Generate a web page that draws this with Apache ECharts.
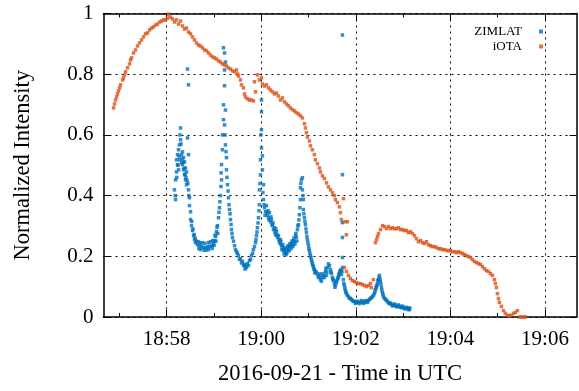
<!DOCTYPE html>
<html>
<head>
<meta charset="utf-8">
<script src="https://cdn.jsdelivr.net/npm/echarts@6/dist/echarts.min.js"></script>
<style>html,body{margin:0;padding:0;background:#fff}#c{width:579px;height:391px}</style>
</head>
<body>
<div id="c"></div>
<script>
// time in seconds relative to 19:00:00 UTC, value = normalized intensity
const zimlatPoints = [[-110,0.419],[-108.6,0.387],[-108.6,0.452],[-107.4,0.478],[-107.4,0.518],[-106.1,0.502],[-106.1,0.535],[-104.8,0.551],[-104.8,0.485],[-103.6,0.567],[-103.6,0.518],[-102.3,0.623],[-102.3,0.584],[-101,0.535],[-101,0.508],[-99.8,0.502],[-99.8,0.544],[-98.5,0.525],[-98.5,0.485],[-97.2,0.469],[-97.2,0.511],[-96,0.491],[-96,0.452],[-94.7,0.478],[-94.7,0.436],[-93.4,0.817],[-93.4,0.590],[-92.2,0.765],[-92.2,0.535],[-92.2,0.419],[-90.9,0.393],[-90.9,0.367],[-89.6,0.347],[-89.6,0.321],[-88.4,0.301],[-87.1,0.285],[-85.8,0.268],[-84.6,0.255],[-83.3,0.245],[-80.8,0.238],[-78.2,0.235],[-75.7,0.232],[-73.2,0.229],[-70.6,0.229],[-68.1,0.232],[-65.5,0.232],[-63,0.235],[-60.5,0.241],[-59.2,0.251],[-57.9,0.265],[-56.7,0.281],[-55.4,0.301],[-54.1,0.327],[-52.9,0.360],[-51.6,0.400],[-50.3,0.452],[-50.3,0.502],[-49.1,0.551],[-49.1,0.600],[-47.8,0.650],[-47.8,0.699],[-46.5,0.762],[-46.5,0.814],[-46.5,0.870],[-47.8,0.887],[-45.3,0.840],[-45.3,0.682],[-46.5,0.633],[-45.3,0.567],[-44,0.525],[-44,0.485],[-42.7,0.436],[-41.5,0.393],[-40.2,0.354],[-38.9,0.321],[-37.7,0.288],[-36.4,0.262],[-33.8,0.235],[-31.3,0.215],[-28.8,0.202],[-26.2,0.192],[-23.7,0.183],[-21.2,0.173],[-19.9,0.166],[-17.4,0.176],[-14.8,0.186],[-12.3,0.202],[-9.8,0.222],[-7.2,0.245],[-6,0.268],[-4.7,0.294],[-3.4,0.327],[-2.2,0.370],[-2.2,0.419],[-0.9,0.468],[-0.9,0.518],[0.4,0.557],[0.4,0.617],[0.4,0.676],[0.4,0.715],[1.6,0.531],[1.6,0.485],[2.9,0.436],[2.9,0.387],[4.2,0.360],[5.5,0.347],[6.7,0.367],[8,0.336],[9.3,0.327],[10.5,0.344],[11.8,0.314],[13.1,0.321],[14.3,0.301],[15.6,0.288],[16.9,0.294],[18.1,0.271],[19.4,0.281],[20.7,0.262],[21.9,0.268],[23.2,0.248],[24.5,0.255],[25.7,0.235],[27,0.229],[28.3,0.219],[29.5,0.222],[30.8,0.212],[32.1,0.219],[33.3,0.229],[34.6,0.222],[35.9,0.235],[37.1,0.232],[38.4,0.241],[39.7,0.238],[40.9,0.251],[42.2,0.248],[43.5,0.268],[44.7,0.262],[46,0.288],[47.3,0.304],[48.5,0.337],[49.8,0.387],[49.8,0.426],[51.1,0.452],[52.3,0.459],[52.3,0.419],[53.6,0.387],[53.6,0.354],[54.9,0.327],[56.2,0.304],[57.4,0.278],[58.7,0.255],[60,0.235],[61.2,0.219],[62.5,0.202],[63.7,0.189],[65,0.176],[66.3,0.166],[67.5,0.156],[68.8,0.150],[71.4,0.140],[73.9,0.133],[75.2,0.123],[77.7,0.130],[79,0.137],[81.5,0.150],[82.8,0.137],[84,0.163],[86.6,0.169],[87.9,0.156],[89.1,0.143],[90.4,0.130],[91.7,0.120],[92.9,0.110],[94.2,0.104],[95.5,0.113],[96.7,0.123],[98,0.133],[99.3,0.143],[100.5,0.153],[101.8,0.140],[103.1,0.163],[103.1,0.196],[103.1,0.262],[103.1,0.311],[103.1,0.469],[103.1,0.929],[104.3,0.123],[105.6,0.104],[106.8,0.087],[108.1,0.077],[110.7,0.067],[113.2,0.061],[115.7,0.054],[118.3,0.051],[120.8,0.048],[123.4,0.048],[125.9,0.048],[128.4,0.051],[131,0.048],[133.5,0.051],[136,0.054],[138.6,0.061],[141.1,0.067],[143.6,0.077],[144.9,0.090],[146.2,0.100],[147.5,0.110],[148.8,0.123],[150,0.137],[151.3,0.117],[152.6,0.097],[153.9,0.080],[155.1,0.067],[157.7,0.058],[160.2,0.051],[162.7,0.044],[165.3,0.041],[167.8,0.038],[170.3,0.038],[172.9,0.035],[175.4,0.035],[178,0.031],[180.5,0.031],[183,0.028],[185.6,0.028],[188.1,0.025],
[-109,0.40],[-107,0.46],[-105.5,0.5],[-104,0.53],[-103,0.6],[-101.6,0.57],[-100.4,0.52],[-99,0.51],[-97.8,0.49],[-96.6,0.47],[-95.4,0.46],[-94,0.45],[-93,0.44],[-91.6,0.40],
[-88,0.315],[-86.5,0.29],[-85,0.272],[-83.8,0.26],[-82,0.25],[-80,0.248],[-79,0.225],[-77,0.245],[-76.5,0.222],[-74.5,0.244],[-72,0.22],[-71.5,0.243],[-69.5,0.221],[-67,0.245],[-66.5,0.222],[-64.3,0.248],[-62,0.226],[-61.5,0.252],[-59.8,0.236],[-58.5,0.27],[-57.3,0.25],[-56,0.295],[-55,0.275],[-53.5,0.345],[-52.3,0.38],[-51,0.43],[-50.8,0.475],
[-45.8,0.6],[-44.6,0.545],[-43.4,0.46],[-42,0.415],[-40.8,0.37],[-39.5,0.34],[-38.2,0.305],[-37,0.275],[-35,0.25],[-32.5,0.222],[-30,0.21],[-27.5,0.19],[-25,0.178],[-22.4,0.17],[-20.5,0.158],[-18.6,0.163],[-16,0.17],[-13.5,0.19],[-11,0.21],[-8.5,0.232],[-6.6,0.255],[-5.3,0.28],[-4,0.31],[-2.8,0.35],[-1.5,0.44],[-0.3,0.6],
[2.2,0.41],[3.6,0.37],[4.9,0.335],[7.4,0.345],[8.7,0.35],[10,0.32],[12.4,0.33],[13.7,0.305],[15,0.31],[17.5,0.28],[18.7,0.29],[20,0.27],[22.5,0.255],[24,0.242],[25,0.248],[26.3,0.222],[27.6,0.238],[29,0.208],[30.2,0.228],[31.5,0.205],[32.7,0.21],[34,0.235],[35.3,0.218],[36.5,0.242],[37.8,0.225],[39,0.25],[40.3,0.232],[41.5,0.26],[42.8,0.24],[44,0.275],[45.3,0.25],[46.6,0.3],[47.9,0.32],[49.1,0.36],[50.4,0.44],
[53,0.40],[54.2,0.34],[55.5,0.315],[56.8,0.29],[58,0.265],[59.3,0.245],[60.6,0.225],[61.8,0.21],[63,0.196],[64.4,0.182],[65.6,0.17],[66.9,0.158],[68.1,0.145],[70,0.148],[72.6,0.13],[74.5,0.142],[76.4,0.118],[78.3,0.142],[80.2,0.13],[82.1,0.16],[83.4,0.148],[85.3,0.175],[88.5,0.148],[91,0.125],[93.5,0.098],[95,0.118],[97.3,0.128],[98.6,0.14],[99.9,0.15],[101.2,0.155],[102.5,0.15],[104.9,0.11],[106.2,0.095],[107.5,0.082],[109.4,0.072],[112,0.062],[114.5,0.058],[117,0.052],[119.6,0.045],[122.1,0.052],[124.7,0.044],[127.2,0.054],[129.7,0.045],[132.3,0.054],[134.8,0.048],[137.3,0.058],[139.9,0.064],[142.4,0.072],[144.3,0.084],[145.6,0.095],[146.8,0.105],[148.1,0.12],[149.4,0.13],[150.7,0.125],[151.9,0.108],[153.2,0.088],[154.5,0.074],[156.4,0.062],[159,0.055],[161.5,0.047],[164,0.046],[166.6,0.037],[169,0.043],[171.6,0.034],[174.2,0.04],[176.7,0.032],[179.2,0.036],[181.8,0.027],[184.3,0.032],[186.8,0.024],[188.5,0.03]];

const iotaPoints = [[-187.2,0.689],[-186,0.702],[-184.7,0.715],[-183.4,0.725],[-182.2,0.735],[-181,0.745],[-179.6,0.755],[-178.4,0.765],[-175.8,0.781],[-174.6,0.788],[-173.3,0.798],[-172,0.808],[-169.5,0.821],[-167,0.834],[-165.7,0.847],[-164.4,0.854],[-161.9,0.870],[-159.4,0.880],[-156.8,0.893],[-154.3,0.903],[-151.7,0.913],[-149.2,0.923],[-146.7,0.933],[-144.1,0.936],[-141.6,0.946],[-139.1,0.952],[-136.5,0.956],[-134,0.962],[-131.5,0.965],[-128.9,0.972],[-126.4,0.975],[-123.9,0.979],[-121.3,0.979],[-118.8,0.985],[-117.5,0.998],[-115,0.988],[-112.4,0.982],[-109.9,0.972],[-107.4,0.979],[-104.8,0.965],[-102.3,0.975],[-99.8,0.959],[-97.2,0.949],[-94.7,0.952],[-92.2,0.939],[-89.6,0.933],[-87.1,0.923],[-84.6,0.913],[-82,0.903],[-79.5,0.896],[-77,0.893],[-74.4,0.887],[-71.9,0.880],[-69.3,0.877],[-66.8,0.870],[-64.3,0.863],[-61.7,0.857],[-59.2,0.854],[-56.7,0.850],[-54.1,0.844],[-51.6,0.840],[-49.1,0.834],[-46.5,0.831],[-44,0.827],[-41.5,0.821],[-38.9,0.817],[-36.4,0.811],[-33.8,0.808],[-31.3,0.814],[-30,0.801],[-28.8,0.794],[-26.2,0.781],[-25,0.765],[-22.4,0.755],[-21.2,0.735],[-19.9,0.725],[-17.4,0.719],[-14.8,0.715],[-12.3,0.715],[-9.8,0.712],[-8.5,0.775],[-7.2,0.742],[-4.7,0.798],[-2.2,0.781],[0.4,0.788],[1.6,0.768],[4.2,0.761],[6.7,0.765],[9.3,0.755],[11.8,0.748],[14.3,0.742],[16.9,0.735],[19.4,0.738],[21.9,0.728],[24.5,0.715],[27,0.722],[29.5,0.709],[32.1,0.702],[34.6,0.696],[37.1,0.689],[39.7,0.683],[42.2,0.679],[44.7,0.673],[47.3,0.669],[49.8,0.663],[52.3,0.656],[54.9,0.637],[56.2,0.623],[57.4,0.607],[58.7,0.593],[61.2,0.580],[62.5,0.564],[65,0.551],[67.5,0.535],[68.8,0.518],[71.4,0.505],[73.9,0.491],[75.2,0.478],[77.7,0.465],[80.2,0.456],[82.8,0.442],[85.3,0.429],[87.9,0.419],[90.4,0.409],[92.9,0.400],[94.2,0.387],[96.7,0.377],[99.3,0.363],[100.5,0.344],[101.8,0.321],[104.3,0.390],[106.8,0.314],[109.4,0.314],[108.1,0.271],[105.6,0.163],[108.1,0.150],[110.7,0.137],[113.2,0.127],[115.7,0.120],[118.3,0.117],[120.8,0.113],[123.4,0.110],[125.9,0.110],[128.4,0.107],[131,0.104],[133.5,0.100],[136,0.104],[138.6,0.110],[139.8,0.097],[142.4,0.123],[145,0.245],[146.3,0.255],[147.6,0.265],[148.8,0.275],[151.4,0.288],[153.9,0.301],[156.4,0.298],[159,0.291],[161.5,0.298],[164,0.291],[166.6,0.294],[169.1,0.291],[171.6,0.291],[174.2,0.294],[176.7,0.288],[179.2,0.288],[181.8,0.285],[184.3,0.285],[186.8,0.278],[189.4,0.281],[191.9,0.275],[194.5,0.268],[197,0.258],[199.5,0.248],[202.1,0.252],[204.6,0.245],[207.1,0.242],[209.7,0.248],[212.2,0.238],[214.7,0.235],[217.3,0.232],[219.8,0.232],[222.3,0.229],[224.9,0.225],[227.4,0.225],[230,0.222],[232.5,0.222],[235,0.219],[237.6,0.219],[240.1,0.219],[242.6,0.215],[245.2,0.215],[247.7,0.212],[250.2,0.215],[252.8,0.212],[255.3,0.209],[257.8,0.206],[260.4,0.202],[262.9,0.199],[265.5,0.196],[268,0.189],[270.5,0.183],[273.1,0.179],[275.6,0.176],[278.1,0.173],[280.7,0.166],[283.2,0.159],[285.7,0.153],[288.3,0.150],[290.8,0.143],[293.3,0.137],[295.9,0.123],[297.1,0.110],[298.4,0.097],[299.7,0.077],[301,0.061],[302.2,0.048],[304.8,0.035],[307.3,0.021],[309.8,0.012],[312.4,0.005],[314.9,0.005],[317.5,0.005],[320,0.012],[322.5,0.015],[325.1,0.021],[327.6,0],[330.1,0],[332.7,0],[335.2,0]];

const xRange = [-200, 400];           // 18:56:40 .. 19:06:40
const xMajorTicks = [-120, 0, 120, 240, 360];
const xMinorTicks = [-180, -60, 60, 180, 300];
const yTicks = [0, 0.2, 0.4, 0.6, 0.8, 1];

function fmtTime(s) {
  const total = 19 * 3600 + s;
  const h = Math.floor(total / 3600);
  const m = Math.round((total - h * 3600) / 60);
  return String(h).padStart(2, '0') + ':' + String(m).padStart(2, '0');
}

const FONT = 'Liberation Serif';
const black = '#000';
const dotted = { show: true, lineStyle: { color: black, width: 1, type: [2, 4] } };

function xAx(pos, ticks, len, main) {
  return {
    type: 'value', position: pos, min: xRange[0], max: xRange[1],
    axisLine: { show: main, onZero: false, lineStyle: { color: black, width: 1.5 } },
    axisTick: { show: true, inside: true, length: len, customValues: ticks, lineStyle: { color: black, width: 1 } },
    axisLabel: { show: pos === 'bottom' && main, customValues: ticks, formatter: fmtTime, color: black, fontFamily: FONT, fontSize: 21, margin: 12 },
    splitLine: (pos === 'bottom' && main) ? dotted : { show: false },
    name: (pos === 'bottom' && main) ? '2016-09-21 - Time in UTC' : '',
    nameLocation: 'middle', nameGap: 46,
    nameTextStyle: { color: black, fontFamily: FONT, fontSize: 22.5 }
  };
}
function yAx(pos) {
  const main = pos === 'left';
  return {
    type: 'value', position: pos, min: 0, max: 1, interval: 0.2,
    axisLine: { show: true, onZero: false, lineStyle: { color: black, width: 1.5 } },
    axisTick: { show: true, inside: true, length: 7, lineStyle: { color: black, width: 1 } },
    axisLabel: { show: main, customValues: yTicks, color: black, fontFamily: FONT, fontSize: 21, margin: 10 },
    splitLine: main ? dotted : { show: false },
    name: main ? 'Normalized Intensity' : '',
    nameLocation: 'middle', nameGap: 69,
    nameTextStyle: { color: black, fontFamily: FONT, fontSize: 22.5 }
  };
}

const chart = echarts.init(document.getElementById('c'), null, { renderer: 'canvas' });
chart.setOption({
  animation: false,
  backgroundColor: '#fff',
  grid: { left: 103.5, right: 2.5, top: 13.5, bottom: 73.5, containLabel: false },
  xAxis: [xAx('bottom', xMajorTicks, 7, true), xAx('bottom', xMinorTicks, 4, false), xAx('top', xMajorTicks, 7, true), xAx('top', xMinorTicks, 4, false)],
  yAxis: [yAx('left'), yAx('right')],
  legend: {
    orient: 'vertical', right: 31, top: 20, align: 'right',
    itemWidth: 4, itemHeight: 4, itemGap: 2,
    icon: 'rect',
    textStyle: { color: black, fontFamily: FONT, fontSize: 13, padding: [0, 12, 0, 0] },
    data: ['ZIMLAT', 'iOTA']
  },
  series: [
    { name: 'ZIMLAT', type: 'scatter', xAxisIndex: 0, yAxisIndex: 0, symbol: 'rect', symbolSize: 3.5,
      itemStyle: { color: '#0072BD' }, data: zimlatPoints },
    { name: 'iOTA', type: 'scatter', xAxisIndex: 0, yAxisIndex: 0, symbol: 'rect', symbolSize: 3.5,
      itemStyle: { color: '#D95319' }, data: iotaPoints }
  ]
});
</script>
</body>
</html>
